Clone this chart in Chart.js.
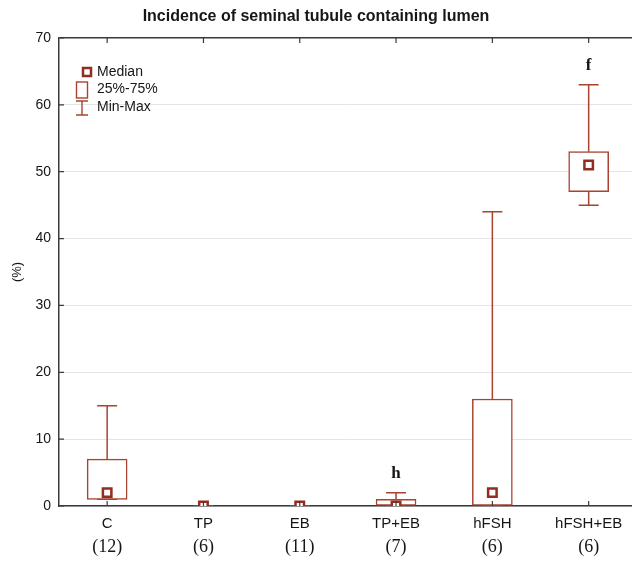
<!DOCTYPE html>
<html>
<head>
<meta charset="utf-8">
<script src="https://cdn.jsdelivr.net/npm/chart.js@4.4.1/dist/chart.umd.min.js"></script>
<style>
    html, body { margin: 0; padding: 0; background: #fff; }
    #wrap { width: 632px; height: 561px; }
</style>
</head>
<body>
<div id="wrap"><canvas id="chart"></canvas></div>
<script>
// Data
const groups = ['C', 'TP', 'EB', 'TP+EB', 'hFSH', 'hFSH+EB'];
const groupSizes = ['(12)', '(6)', '(11)', '(7)', '(6)', '(6)'];
const minValues = [1, 0, 0, 0, 0, 45];
const q1Values = [1, 0, 0, 0, 0, 47];
const medianValues = [2, 0, 0, 0, 2, 51];
const q3Values = [7, 0, 0, 1, 16, 53];
const maxValues = [15, 0, 0, 2, 44, 63];
const sigLetters = ['', '', '', 'h', '', 'f'];
const yTicks = [0, 10, 20, 30, 40, 50, 60, 70];

const BOX_COLOR = '#a8432f';
const MEDIAN_COLOR = '#932d20';
const AXIS_COLOR = '#3a3a3a';
const GRID_COLOR = '#e4e4e4';
const TEXT_COLOR = '#161616';
const SANS = '"Liberation Sans", Arial, sans-serif';
const SERIF = '"Liberation Serif", "Times New Roman", serif';

const categoryTicks = scale => {
    scale.ticks = groups.map((g, i) => ({ value: i }));
};

// fixed height, no extra side padding for the labels
const fitBottom = h => scale => {
    scale.height = h;
    scale.paddingLeft = 0;
    scale.paddingRight = 0;
};

// Whiskers, inner tick marks, letters and legend
const boxExtras = {
    id: 'boxExtras',
    beforeDatasetsDraw(chart) {
        const { ctx, chartArea, scales: { x, y } } = chart;
        ctx.save();
        ctx.beginPath();
        ctx.rect(chartArea.left, chartArea.top, chartArea.right - chartArea.left, chartArea.bottom - chartArea.top);
        ctx.clip();
        ctx.strokeStyle = BOX_COLOR;
        ctx.lineWidth = 1.5;
        const capHalf = 10;
        groups.forEach((g, i) => {
            const px = x.getPixelForValue(i);
            const pMax = y.getPixelForValue(maxValues[i]);
            const pQ3 = y.getPixelForValue(q3Values[i]);
            const pQ1 = y.getPixelForValue(q1Values[i]);
            const pMin = y.getPixelForValue(minValues[i]);
            ctx.beginPath();
            ctx.moveTo(px, pQ3); ctx.lineTo(px, pMax);
            ctx.moveTo(px - capHalf, pMax); ctx.lineTo(px + capHalf, pMax);
            ctx.moveTo(px, pQ1); ctx.lineTo(px, pMin);
            ctx.moveTo(px - capHalf, pMin); ctx.lineTo(px + capHalf, pMin);
            ctx.stroke();
        });
        ctx.restore();
    },
    afterDraw(chart) {
        const { ctx, chartArea, scales: { x, y } } = chart;
        ctx.save();
        // inward tick marks
        ctx.strokeStyle = AXIS_COLOR;
        ctx.lineWidth = 1.2;
        ctx.beginPath();
        yTicks.forEach(v => {
            const py = y.getPixelForValue(v);
            ctx.moveTo(chartArea.left, py); ctx.lineTo(chartArea.left + 5, py);
        });
        groups.forEach((g, i) => {
            const px = x.getPixelForValue(i);
            ctx.moveTo(px, chartArea.top); ctx.lineTo(px, chartArea.top + 5);
            ctx.moveTo(px, chartArea.bottom); ctx.lineTo(px, chartArea.bottom - 5);
        });
        ctx.stroke();

        // significance letters
        ctx.fillStyle = TEXT_COLOR;
        ctx.font = 'bold 17px ' + SERIF;
        ctx.textAlign = 'center';
        ctx.textBaseline = 'alphabetic';
        sigLetters.forEach((s, i) => {
            if (!s) return;
            ctx.fillText(s, x.getPixelForValue(i), y.getPixelForValue(maxValues[i]) - 15);
        });

        // legend
        const lx = chartArea.left + 23;
        const ly = chartArea.top + 34;
        ctx.font = '14px ' + SANS;
        ctx.textAlign = 'left';
        ctx.textBaseline = 'middle';
        ctx.fillStyle = TEXT_COLOR;
        ctx.fillText('Median', lx + 15, ly);
        ctx.fillText('25%-75%', lx + 15, ly + 17.5);
        ctx.fillText('Min-Max', lx + 15, ly + 35);

        ctx.strokeStyle = MEDIAN_COLOR;
        ctx.lineWidth = 2.5;
        ctx.strokeRect(lx + 1, ly - 4, 8, 8);

        ctx.strokeStyle = BOX_COLOR;
        ctx.lineWidth = 1.4;
        ctx.strokeRect(lx - 5.5, ly + 10, 11, 16);
        ctx.beginPath();
        ctx.moveTo(lx - 6, ly + 29); ctx.lineTo(lx + 6, ly + 29);
        ctx.moveTo(lx, ly + 29); ctx.lineTo(lx, ly + 43);
        ctx.moveTo(lx - 6, ly + 43); ctx.lineTo(lx + 6, ly + 43);
        ctx.stroke();
        ctx.restore();
    }
};

new Chart(document.getElementById('chart'), {
    type: 'bar',
    data: {
        datasets: [
            {
                type: 'bar',
                label: '25%-75%',
                data: groups.map((g, i) => ({ x: i, y: [q1Values[i], q3Values[i]] })),
                backgroundColor: '#ffffff',
                borderColor: BOX_COLOR,
                borderWidth: 1.5,
                borderSkipped: false,
                barThickness: 40,
                order: 2
            },
            {
                type: 'scatter',
                label: 'Median',
                data: groups.map((g, i) => ({ x: i, y: medianValues[i] })),
                pointStyle: 'rect',
                radius: 6,
                borderWidth: 2.5,
                borderColor: MEDIAN_COLOR,
                backgroundColor: '#ffffff',
                order: 1
            }
        ]
    },
    options: {
        responsive: true,
        maintainAspectRatio: false,
        animation: false,
        layout: { autoPadding: false, padding: { left: 0, right: 0, top: 0, bottom: 0 } },
        plugins: {
            legend: { display: false },
            tooltip: { enabled: false },
            title: {
                display: true,
                text: 'Incidence of seminal tubule containing lumen',
                color: TEXT_COLOR,
                font: { family: SANS, size: 16, weight: 'bold' },
                padding: { top: 7, bottom: 11.8 }
            }
        },
        scales: {
            x: {
                type: 'linear',
                position: 'bottom',
                offset: false,
                min: -0.5,
                max: 5.45,
                afterBuildTicks: categoryTicks,
                afterFit: fitBottom(27),
                grid: { display: false, drawTicks: false, offset: false },
                border: { display: true, color: AXIS_COLOR, width: 1.5 },
                ticks: {
                    callback: v => groups[v],
                    color: TEXT_COLOR,
                    padding: 9,
                    maxRotation: 0,
                    autoSkip: false,
                    font: { family: SANS, size: 15 }
                }
            },
            x2: {
                type: 'linear',
                position: 'bottom',
                offset: false,
                min: -0.5,
                max: 5.45,
                afterBuildTicks: categoryTicks,
                afterFit: fitBottom(28),
                grid: { display: false, drawTicks: false, offset: false },
                border: { display: false },
                ticks: {
                    callback: v => groupSizes[v],
                    color: TEXT_COLOR,
                    padding: 3,
                    maxRotation: 0,
                    autoSkip: false,
                    font: { family: SERIF, size: 18 }
                }
            },
            y: {
                min: 0,
                max: 70,
                afterBuildTicks: s => { s.ticks = yTicks.map(v => ({ value: v })); },
                afterFit: s => { s.width = 59; },
                grid: {
                    drawTicks: false,
                    color: c => (c.tick && c.tick.value === 70) ? AXIS_COLOR : GRID_COLOR,
                    lineWidth: c => (c.tick && c.tick.value === 70) ? 1.5 : 1
                },
                border: { display: true, color: AXIS_COLOR, width: 1.5 },
                ticks: {
                    color: TEXT_COLOR,
                    padding: 8,
                    font: { family: SANS, size: 14 }
                },
                title: {
                    display: true,
                    text: '(%)',
                    color: TEXT_COLOR,
                    font: { family: SANS, size: 13 },
                    padding: { top: 10, bottom: 0 }
                }
            }
        }
    },
    plugins: [boxExtras]
});
</script>
</body>
</html>
